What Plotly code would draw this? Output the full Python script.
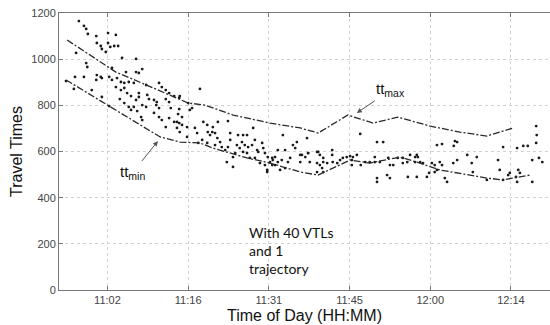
import plotly.graph_objects as go

# Observed travel times: time of day (minutes after midnight) and travel time (s)
obs_minutes = [
    657.3, 658.2, 658.6, 658.9, 660.4, 660.5, 661.2, 661.4, 662.5, 662.5,
    662.9, 663.6, 663.9, 664.3, 662.1, 656.8, 665.0, 667.5, 658.6, 658.8,
    663.2, 665.7, 667.5, 668.0, 668.6, 658.2, 655.0, 660.5, 661.2, 660.4,
    661.4, 662.7, 663.2, 664.1, 664.8, 665.4, 666.2, 667.1, 669.3, 671.6,
    672.1, 672.8, 673.4, 674.3, 675.2, 663.9, 664.8, 665.4, 659.6, 661.4,
    665.9, 666.6, 668.0, 668.0, 667.5, 669.5, 669.8, 670.7, 671.2, 672.8,
    673.4, 664.6, 665.4, 666.2, 667.1, 668.6, 669.3, 671.1, 671.6, 673.7,
    675.2, 662.7, 666.6, 667.7, 668.4, 668.6, 670.7, 671.6, 672.1, 673.4,
    674.3, 675.2, 674.8, 672.8, 675.7, 656.6, 656.4,
    675.3, 674.8, 675.0, 675.7, 676.6, 676.8, 677.5, 677.1, 675.3, 676.6,
    678.0, 678.4, 678.6, 679.3, 679.5, 680.2, 680.3, 680.7, 681.1, 681.6,
    682.0, 682.1, 681.2, 680.2, 681.6, 682.5, 682.8, 683.4, 683.9, 684.3,
    684.3, 683.9, 684.8, 685.2, 683.7, 684.8, 685.5, 685.7, 686.6, 687.3,
    686.4, 686.9, 686.0, 686.6, 687.3, 687.5, 688.2, 688.4, 688.7, 689.1,
    687.8, 688.7, 689.3, 690.0, 690.2, 690.5, 691.0, 689.6, 690.5, 691.4,
    690.9, 691.8, 691.9, 692.3, 692.3, 692.8, 691.8, 693.7, 694.1, 694.6,
    695.9, 695.5, 696.2, 696.8, 697.7, 698.2, 698.5, 698.0, 696.8, 700.0,
    700.3, 700.7, 700.9, 699.8, 700.9, 690.9, 678.9, 693.5, 694.1, 693.2,
    695.0, 692.8,
    707.5, 710.5, 711.6, 721.2, 722.1, 724.4, 724.8, 724.2, 733.0, 735.5,
    736.6, 737.4, 738.9, 739.0, 738.9, 697.1, 699.8, 700.3, 700.9, 698.2,
    699.8, 701.6, 702.5, 702.5, 702.6, 703.4, 703.9, 704.4, 705.1, 705.7,
    706.0, 706.2, 706.9, 706.0, 707.6, 708.4, 709.2, 710.1, 710.1, 711.0,
    710.5, 710.5, 712.5, 712.8, 712.3, 712.8, 713.4, 714.2, 715.1, 715.1,
    715.9, 716.0, 716.4, 717.3, 717.6, 717.8, 717.3, 718.2, 718.7, 717.6,
    719.4, 719.8, 720.3, 720.8, 721.2, 721.7, 720.8, 722.1, 723.0, 722.6,
    724.1, 724.8, 726.6, 727.4, 727.6, 728.3, 730.1, 732.1, 732.4, 733.0,
    733.9, 734.2, 735.3, 735.5, 735.7, 736.0, 738.2, 738.2, 739.4, 740.0,
]
obs_travel = [
    1165, 1144, 1131, 1109, 1100, 1070, 1057, 1044, 1113, 1070,
    1053, 1057, 1105, 1057, 1031, 1027, 1005, 1001, 983, 966,
    962, 944, 944, 940, 957, 923, 905, 931, 923, 910,
    918, 923, 910, 918, 901, 897, 901, 897, 888, 897,
    879, 866, 853, 840, 832, 879, 866, 875, 866, 836,
    853, 840, 853, 836, 823, 845, 827, 823, 814, 827,
    814, 827, 810, 793, 793, 801, 793, 801, 788, 788,
    784, 797, 780, 775, 749, 736, 767, 749, 736, 745,
    728, 723, 702, 706, 749, 923, 871,
    840, 728, 762, 715, 706, 810, 788, 780, 684, 663,
    702, 680, 637, 650, 728, 715, 684, 671, 684, 680,
    658, 728, 706, 637, 628, 641, 619, 606, 732, 680,
    650, 619, 576, 593, 554, 533, 628, 671, 671, 671,
    641, 628, 615, 598, 593, 619, 628, 702, 650, 606,
    572, 572, 598, 637, 615, 593, 576, 550, 541, 554,
    520, 541, 563, 576, 541, 554, 572, 671, 606, 554,
    615, 628, 641, 585, 576, 593, 554, 658, 554, 598,
    541, 528, 511, 511, 554, 511, 871, 563, 528, 520,
    572, 606,
    676, 641, 641, 628, 632, 645, 641, 624, 619, 615,
    624, 624, 710, 671, 637, 585, 598, 585, 572, 593,
    550, 550, 606, 585, 554, 550, 563, 572, 576, 580,
    563, 576, 585, 541, 541, 554, 554, 576, 554, 554,
    485, 468, 572, 541, 498, 485, 541, 572, 572, 550,
    554, 490, 585, 576, 585, 576, 554, 554, 550, 490,
    490, 507, 550, 541, 520, 554, 511, 541, 468, 485,
    550, 563, 585, 550, 511, 576, 477, 563, 520, 477,
    498, 507, 490, 468, 520, 507, 563, 468, 572, 554,
]

# Upper bound envelope tt_max
max_minutes = [655.2, 661.1, 663.9, 668.2, 676.8, 679.8, 684.8, 691.4, 696.8,
               700.0, 705.3, 709.8, 714.2, 720.0, 725.3, 730.1, 734.8]
max_travel = [1083, 988, 944, 900, 810, 801, 758, 723, 702,
              680, 758, 723, 749, 710, 684, 667, 702]

# Lower bound envelope tt_min
min_minutes = [655.0, 662.5, 668.2, 671.8, 675.3, 678.9, 681.2, 687.3, 691.4,
               696.8, 700.0, 705.7, 709.2, 714.6, 717.6, 721.7, 730.1, 733.0, 737.8]
min_travel = [910, 801, 715, 663, 641, 637, 615, 572, 550,
              511, 498, 563, 550, 576, 554, 520, 485, 477, 498]

tick_minutes = [662.4, 676.8, 691.2, 705.6, 720.0, 734.4]
tick_labels = ["11:02", "11:16", "11:31", "11:45", "12:00", "12:14"]
y_ticks = [0, 200, 400, 600, 800, 1000, 1200]

fig = go.Figure()

fig.add_trace(go.Scatter(
    x=obs_minutes, y=obs_travel, mode="markers",
    marker=dict(size=2.8, color="#1a1a1a"), showlegend=False,
))
fig.add_trace(go.Scatter(
    x=max_minutes, y=max_travel, mode="lines",
    line=dict(color="#2a2a2a", width=1.3, dash="7px,2px,2px,2px"), showlegend=False,
))
fig.add_trace(go.Scatter(
    x=min_minutes, y=min_travel, mode="lines",
    line=dict(color="#2a2a2a", width=1.3, dash="7px,2px,2px,2px"), showlegend=False,
))

# Labels with arrows pointing at the envelopes
fig.add_annotation(
    x=706.9, y=767, text="tt<sub>max</sub>", showarrow=True,
    ax=34, ay=-23, arrowhead=2, arrowsize=1, arrowwidth=1, arrowcolor="#555",
    font=dict(family="Arial", size=15, color="#111"),
)
fig.add_annotation(
    x=671.4, y=645, text="tt<sub>min</sub>", showarrow=True,
    ax=-25, ay=31, arrowhead=2, arrowsize=1, arrowwidth=1, arrowcolor="#555",
    font=dict(family="Arial", size=15, color="#111"),
)
fig.add_annotation(
    xref="paper", yref="paper", x=0.383, y=0.144,
    xanchor="left", yanchor="middle", align="left", showarrow=False,
    text="With 40 VTLs<br>and 1<br>trajectory",
    font=dict(family="Lato", size=14, color="#111"),
)

fig.update_layout(
    width=550, height=325,
    margin=dict(l=59, r=0, t=13, b=35),
    paper_bgcolor="white", plot_bgcolor="white",
    font=dict(family="Arial", color="#333"),
)
fig.update_xaxes(
    range=[653.75, 741.37],
    tickvals=tick_minutes, ticktext=tick_labels,
    tickfont=dict(family="Arial", size=11, color="#444"),
    ticks="inside", ticklen=4, tickcolor="#777",
    showline=True, linecolor="#777", linewidth=1, mirror="ticks",
    showgrid=True, gridcolor="#d2d2d2", griddash="dot", gridwidth=1,
    zeroline=False,
    title=dict(text="Time of Day (HH:MM)", standoff=4,
               font=dict(family="Arial", size=16, color="#111")),
)
fig.update_yaxes(
    range=[0, 1200], tickvals=y_ticks,
    tickfont=dict(family="Arial", size=11, color="#444"),
    ticks="inside", ticklen=4, tickcolor="#777",
    showline=True, linecolor="#777", linewidth=1,
    showgrid=True, gridcolor="#d2d2d2", griddash="dot", gridwidth=1,
    zeroline=False,
    title=dict(text="Travel Times", standoff=4,
               font=dict(family="Arial", size=16, color="#111")),
)

fig.write_html("out.html")
